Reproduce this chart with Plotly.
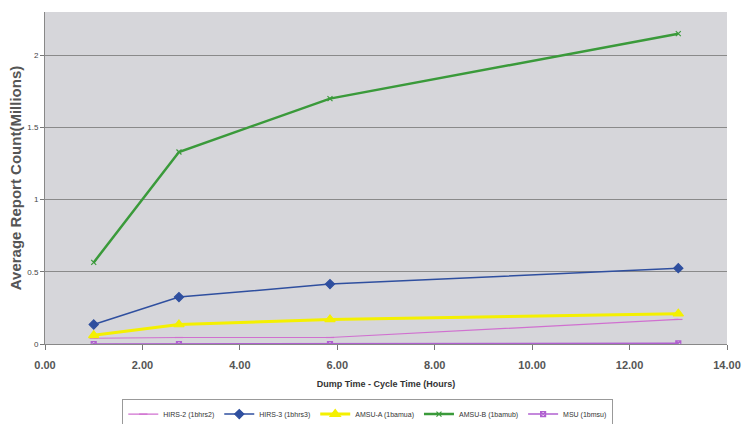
import plotly.graph_objects as go

# Dump time minus cycle time (hours)
hours = [1.0, 2.75, 5.85, 13.0]

# Average report counts (millions) per instrument
hirs2 = [0.04, 0.045, 0.045, 0.17]
hirs3 = [0.135, 0.325, 0.415, 0.525]
amsua = [0.06, 0.135, 0.17, 0.21]
amsub = [0.565, 1.33, 1.70, 2.15]
msu = [0.0, 0.0, 0.0, 0.005]

series = [
    ("HIRS-2 (1bhrs2)", hirs2, "#d070d0", "line-ew", 6, 1.2),
    ("HIRS-3 (1bhrs3)", hirs3, "#2f4f9f", "diamond", 7, 1.5),
    ("AMSU-A (1bamua)", amsua, "#f4f000", "triangle-up", 9, 3),
    ("AMSU-B (1bamub)", amsub, "#3a9a3a", "x-thin", 5, 2.5),
    ("MSU (1bmsu)", msu, "#b060d0", "square-x-open", 5, 1.5),
]

fig = go.Figure()
for name, vals, color, sym, size, width in series:
    fig.add_trace(go.Scatter(
        x=hours, y=vals, name=name, mode="lines+markers",
        line=dict(color=color, width=width),
        marker=dict(symbol=sym, size=size, color=color,
                    line=dict(color=color, width=1.2)),
    ))

fig.update_layout(
    width=743, height=424,
    margin=dict(l=45, r=16, t=12, b=80),
    paper_bgcolor="white",
    plot_bgcolor="#d6d6da",
    font=dict(family="Liberation Sans, Arial, sans-serif", color="#333"),
    xaxis=dict(
        range=[0, 14], dtick=2, tickformat=".2f", automargin=False,
        showgrid=False, zeroline=False,
        ticks="outside", ticklen=5, tickcolor="#777",
        ticklabelstandoff=6,
        showline=True, linecolor="#888",
        tickfont=dict(size=11, color="#555", weight="bold"),
        title=dict(text="<b>Dump Time - Cycle Time (Hours)</b>",
                   font=dict(size=9, color="#333"), standoff=10),
    ),
    yaxis=dict(
        range=[0, 2.3], dtick=0.5, automargin=False,
        showgrid=True, gridcolor="#8a8a8a", gridwidth=1,
        zeroline=False, ticks="outside", ticklen=4, tickcolor="#777",
        showline=True, linecolor="#888",
        tickfont=dict(size=8, color="#444"),
        title=dict(text="<b>Average Report Count(Millions)</b>",
                   font=dict(size=15, color="#555"), standoff=2),
    ),
    legend=dict(
        orientation="h", x=0.495, xanchor="center", xref="container",
        y=0.06, yanchor="top", yref="container",
        font=dict(size=7, color="#333"),
        bordercolor="#999", borderwidth=1, bgcolor="white",
        itemwidth=30,
    ),
    showlegend=True,
)

fig.write_html("out.html")
